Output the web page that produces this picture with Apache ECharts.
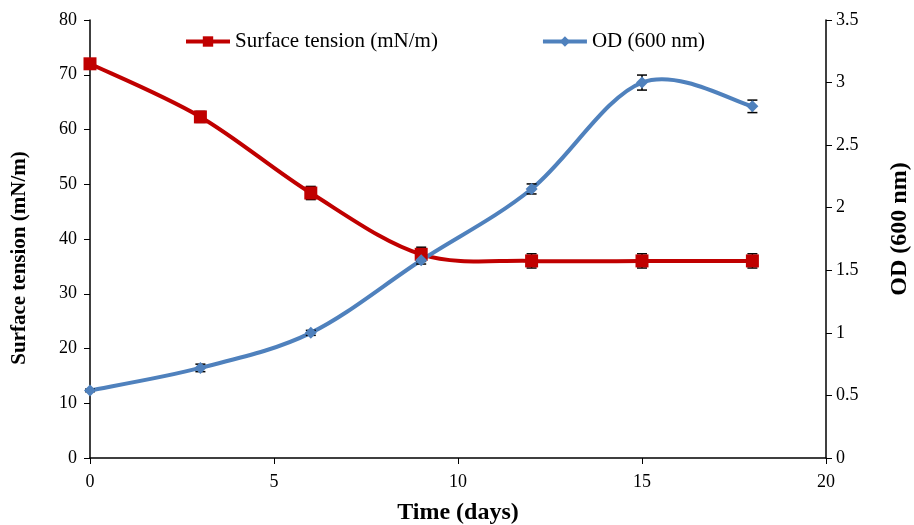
<!DOCTYPE html>
<html>
<head>
<meta charset="utf-8">
<script src="https://cdn.jsdelivr.net/npm/echarts@6/dist/echarts.min.js"></script>
<style>
html,body{margin:0;padding:0;background:#fff;}
#main{width:914px;height:525px;}
</style>
</head>
<body>
<div id="main"></div>
<script>
var days = [0, 3, 6, 9, 12, 15, 18];
var tension = [72, 62.3, 48.4, 37.2, 36.0, 36.0, 36.0];
var tensionErr = [0.6, 1.0, 1.2, 1.3, 1.3, 1.3, 1.3];
var od = [0.54, 0.72, 1.0, 1.58, 2.15, 3.0, 2.81];
var odErr = [0.01, 0.03, 0.02, 0.03, 0.04, 0.06, 0.05];

var red = '#c00000', blue = '#4f81bd';
var font = 'Liberation Serif, Times New Roman, serif';

function pairs(ys){
  var out = [];
  for(var i=0;i<days.length;i++){ out.push([days[i], ys[i]]); }
  return out;
}
function errData(ys, es){
  var out = [];
  for(var i=0;i<days.length;i++){ out.push([days[i], ys[i]-es[i], ys[i]+es[i]]); }
  return out;
}
function errRender(params, api){
  var x = api.value(0);
  var lo = api.coord([x, api.value(1)]);
  var hi = api.coord([x, api.value(2)]);
  var w = 5;
  var st = {stroke:'#000', lineWidth:1.5};
  return {
    type:'group',
    children:[
      {type:'line', shape:{x1:lo[0],y1:lo[1],x2:hi[0],y2:hi[1]}, style:st},
      {type:'line', shape:{x1:lo[0]-w,y1:lo[1],x2:lo[0]+w,y2:lo[1]}, style:st},
      {type:'line', shape:{x1:hi[0]-w,y1:hi[1],x2:hi[0]+w,y2:hi[1]}, style:st}
    ]
  };
}
// spreadsheet-style smoothed segment (catmull-rom) between point i and i+1
function curveRender(ys, color){
  return function(params, api){
    var i = params.dataIndex;
    if(i >= days.length - 1) return null;
    var p = function(j){
      j = Math.max(0, Math.min(days.length - 1, j));
      return api.coord([days[j], ys[j]]);
    };
    var p0 = p(i-1), p1 = p(i), p2 = p(i+1), p3 = p(i+2);
    var k = 1/6;
    return {
      type:'bezierCurve',
      shape:{
        x1:p1[0], y1:p1[1], x2:p2[0], y2:p2[1],
        cpx1:p1[0] + (p2[0]-p0[0])*k, cpy1:p1[1] + (p2[1]-p0[1])*k,
        cpx2:p2[0] - (p3[0]-p1[0])*k, cpy2:p2[1] - (p3[1]-p1[1])*k
      },
      style:{stroke:color, lineWidth:4, fill:null, lineCap:'round'}
    };
  };
}

var chart = echarts.init(document.getElementById('main'));
chart.setOption({
  animation:false,
  backgroundColor:'#fff',
  textStyle:{fontFamily:font},
  grid:{left:90, right:88, top:20, bottom:67, outerBoundsMode:'none'},
  legend:{
    top:31, left:184, padding:0, itemGap:103, itemWidth:44, itemHeight:13,
    textStyle:{fontFamily:font, fontSize:21, color:'#000'},
    data:[
      {name:'Surface tension (mN/m)', lineStyle:{width:4, color:red, opacity:1}},
      {name:'OD (600 nm)', lineStyle:{width:4, color:blue, opacity:1}}
    ]
  },
  xAxis:{
    type:'value', min:0, max:20, interval:5,
    name:'Time (days)', nameLocation:'middle', nameGap:43,
    nameTextStyle:{fontFamily:font, fontSize:24, fontWeight:'bold', color:'#000'},
    axisLine:{lineStyle:{color:'#000', width:1.5}},
    axisTick:{show:true, length:6, lineStyle:{color:'#000'}},
    axisLabel:{fontFamily:font, fontSize:18, color:'#000', margin:15},
    splitLine:{show:false}
  },
  yAxis:[{
    type:'value', min:0, max:80, interval:10,
    name:'Surface tension (mN/m)', nameLocation:'middle', nameGap:60,
    nameTextStyle:{fontFamily:font, fontSize:21, fontWeight:'bold', color:'#000', padding:[0,38,0,0]},
    axisLine:{show:true, lineStyle:{color:'#000', width:1.5}},
    axisTick:{show:true, length:6, lineStyle:{color:'#000'}},
    axisLabel:{fontFamily:font, fontSize:18, color:'#000', margin:13},
    splitLine:{show:false}
  },{
    type:'value', min:0, max:3.5, interval:0.5,
    name:'OD (600 nm)', nameLocation:'middle', nameGap:62, nameRotate:90,
    nameTextStyle:{fontFamily:font, fontSize:24, fontWeight:'bold', color:'#000', padding:[0,0,0,20]},
    axisLine:{show:true, lineStyle:{color:'#000', width:1.5}},
    axisTick:{show:true, length:6, lineStyle:{color:'#000'}},
    axisLabel:{fontFamily:font, fontSize:18, color:'#000', margin:10},
    splitLine:{show:false}
  }],
  series:[{
    type:'custom', yAxisIndex:0, renderItem:curveRender(tension, red),
    data:pairs(tension), z:2, silent:true
  },{
    type:'custom', yAxisIndex:1, renderItem:curveRender(od, blue),
    data:pairs(od), z:2, silent:true
  },{
    type:'custom', yAxisIndex:0, renderItem:errRender,
    data:errData(tension, tensionErr), z:3, silent:true
  },{
    type:'custom', yAxisIndex:1, renderItem:errRender,
    data:errData(od, odErr), z:3, silent:true
  },{
    name:'Surface tension (mN/m)', type:'line', yAxisIndex:0,
    data:pairs(tension),
    symbol:'rect', symbolSize:13,
    lineStyle:{color:red, width:0, opacity:0},
    itemStyle:{color:red},
    z:4
  },{
    name:'OD (600 nm)', type:'line', yAxisIndex:1,
    data:pairs(od),
    symbol:'diamond', symbolSize:12,
    lineStyle:{color:blue, width:0, opacity:0},
    itemStyle:{color:blue},
    z:4
  }]
});
</script>
</body>
</html>
